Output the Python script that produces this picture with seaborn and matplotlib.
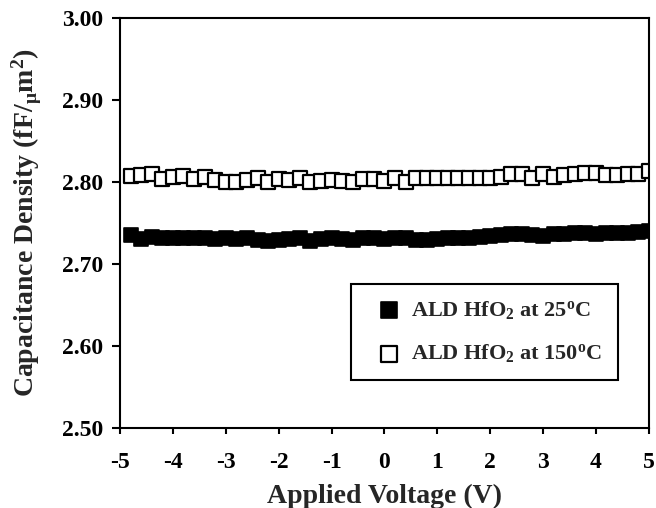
import numpy as np
import pandas as pd
import matplotlib
matplotlib.use('Agg')
import matplotlib.pyplot as plt
import seaborn as sns

# --- data ---
voltage = np.round(np.arange(-4.8, 5.01, 0.2), 1)

cap_150c = [2.807, 2.808, 2.809, 2.803, 2.806, 2.807, 2.803, 2.806, 2.802, 2.800,
            2.800, 2.802, 2.804, 2.800, 2.803, 2.802, 2.804, 2.800, 2.801, 2.802,
            2.801, 2.800, 2.803, 2.803, 2.801, 2.804, 2.800, 2.804, 2.804, 2.804,
            2.805, 2.805, 2.804, 2.804, 2.805, 2.806, 2.809, 2.810, 2.805, 2.810,
            2.806, 2.808, 2.810, 2.811, 2.811, 2.808, 2.808, 2.810, 2.809, 2.813]

cap_25c = [2.735, 2.730, 2.733, 2.731, 2.732, 2.731, 2.731, 2.732, 2.730, 2.731,
           2.730, 2.731, 2.729, 2.728, 2.729, 2.730, 2.731, 2.728, 2.730, 2.731,
           2.730, 2.729, 2.731, 2.732, 2.730, 2.731, 2.732, 2.729, 2.729, 2.730,
           2.731, 2.731, 2.732, 2.733, 2.734, 2.735, 2.736, 2.736, 2.735, 2.734,
           2.736, 2.736, 2.737, 2.737, 2.736, 2.737, 2.738, 2.738, 2.739, 2.740]

labels = ['ALD HfO$_2$ at 25$^o$C', 'ALD HfO$_2$ at 150$^o$C']
yticks = [2.5, 2.6, 2.7, 2.8, 2.9, 3.0]

df = pd.DataFrame({
    'V': np.concatenate([voltage, voltage]),
    'C': cap_25c + cap_150c,
    'sample': [labels[0]] * len(voltage) + [labels[1]] * len(voltage),
})

sns.set_style('ticks')
plt.rcParams['font.family'] = ['Liberation Serif', 'DejaVu Serif']
plt.rcParams['font.weight'] = 'bold'
plt.rcParams['axes.unicode_minus'] = False
plt.rcParams['mathtext.fontset'] = 'custom'
plt.rcParams['mathtext.rm'] = 'Liberation Serif:bold'
plt.rcParams['mathtext.it'] = 'Liberation Serif:bold'
plt.rcParams['mathtext.bf'] = 'Liberation Serif:bold'

fig = plt.figure(figsize=(6.56, 5.08), dpi=100)
ax = fig.add_axes([0.183, 0.1575, 0.806, 0.808])

# filled squares for 25C, open squares for 150C
sns.scatterplot(data=df[df['sample'] == labels[0]], x='V', y='C', marker='s', s=100,
                color='black', edgecolor='black', linewidth=1.2, ax=ax, label=labels[0])
sns.scatterplot(data=df[df['sample'] == labels[1]], x='V', y='C', marker='s', s=100,
                facecolor='white', edgecolor='black', linewidth=1.6, ax=ax, label=labels[1])

ax.set_xlim(-5, 5)
ax.set_ylim(2.5, 3.0)
ax.set_xticks(range(-5, 6))
ax.set_yticks(yticks)
ax.set_yticklabels(['%.2f' % t for t in yticks])

for s in ax.spines.values():
    s.set_linewidth(1.5)
    s.set_color('black')
ax.tick_params(axis='y', direction='out', length=6, width=1.5, pad=6)
ax.tick_params(axis='x', direction='out', length=4, width=1.5, pad=13)
ax.tick_params(labelsize=17, colors='black')
for lbl in ax.get_xticklabels() + ax.get_yticklabels():
    lbl.set_fontweight('bold')

ax.set_xlabel('Applied Voltage (V)', fontsize=20, fontweight='bold', labelpad=8)
ax.set_ylabel('Capacitance Density (fF/$_{\u03bc}$m$^2$)', fontsize=20, fontweight='bold', labelpad=13)

leg = ax.legend(loc='lower right', bbox_to_anchor=(0.941, 0.117), fontsize=16,
                frameon=True, fancybox=False, borderpad=0.7, labelspacing=0.95,
                handletextpad=0.0, markerscale=1.1, borderaxespad=0)
leg.get_frame().set_edgecolor('black')
leg.get_frame().set_linewidth(1.5)
leg.get_frame().set_alpha(1)
for t in leg.get_texts():
    t.set_fontweight('bold')

plt.savefig('out.png', dpi=100)
